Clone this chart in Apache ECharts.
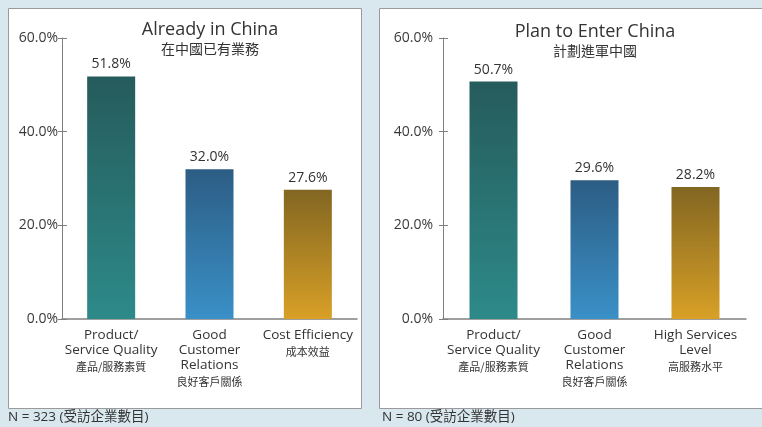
<!DOCTYPE html>
<html>
<head>
<meta charset="utf-8">
<script src="https://cdn.jsdelivr.net/npm/echarts@6/dist/echarts.min.js"></script>
<style>
  html, body { margin: 0; padding: 0; background: #d9e8ef; }
  #chart { width: 762px; height: 427px; }
</style>
</head>
<body>
<div id="chart"></div>
<script>
// Survey results: top reasons, by group of firms
const leftTitle = 'Already in China';
const leftSubtitle = '在中國已有業務';
const leftCatsEn = ['Product/\nService Quality', 'Good\nCustomer\nRelations', 'Cost Efficiency'];
const leftCatsZh = ['產品/服務素質', '良好客戶關係', '成本效益'];
const leftValues = [51.8, 32.0, 27.6];
const leftNote = 'N = 323 (受訪企業數目)';

const rightTitle = 'Plan to Enter China';
const rightSubtitle = '計劃進軍中國';
const rightCatsEn = ['Product/\nService Quality', 'Good\nCustomer\nRelations', 'High Services\nLevel'];
const rightCatsZh = ['產品/服務素質', '良好客戶關係', '高服務水平'];
const rightValues = [50.7, 29.6, 28.2];
const rightNote = 'N = 80 (受訪企業數目)';

const yTicks = [0, 20, 40, 60];

const FONT = '"Open Sans", "Noto Sans", "Noto Sans CJK TC", sans-serif';
const CJK = '"Noto Sans CJK TC", sans-serif';

function grad(top, bottom) {
  return new echarts.graphic.LinearGradient(0, 0, 0, 1, [
    { offset: 0, color: top }, { offset: 1, color: bottom }
  ]);
}
const barColors = [
  grad('#265b5c', '#2d8a89'),
  grad('#2c5d84', '#3a90c7'),
  grad('#826622', '#d8a026')
];

function catLabels(en, zh) {
  return en.map((e, i) => {
    const lines = e.split('\n').map(l => '{en|' + l + '}').join('\n');
    return lines + '\n{zh|' + zh[i] + '}';
  });
}

const chart = echarts.init(document.getElementById('chart'), null, { renderer: 'canvas' });

function yAxisPair(gridIndex, margin) {
  return [
    {
      gridIndex, type: 'value', min: yTicks[0], max: yTicks[yTicks.length - 1], interval: 20,
      axisLine: { show: true, lineStyle: { color: '#808080', width: 1 } },
      axisTick: { show: true, length: 4, lineStyle: { color: '#808080' } },
      splitLine: { show: false },
      axisLabel: {
        margin, color: '#3a3a3a', fontSize: 14, fontFamily: FONT,
        formatter: v => v.toFixed(1) + '%'
      }
    },
    {
      gridIndex, type: 'value', min: yTicks[0], max: yTicks[yTicks.length - 1], interval: 20,
      position: 'left',
      axisLine: { show: false },
      axisTick: { show: true, inside: true, length: 5, lineStyle: { color: '#808080' } },
      splitLine: { show: false },
      axisLabel: { show: false }
    }
  ];
}

function xAxis(gridIndex, en, zh) {
  return {
    gridIndex, type: 'category', data: catLabels(en, zh),
    axisLine: { lineStyle: { color: '#808080', width: 1.5 } },
    axisTick: { show: false },
    axisLabel: {
      interval: 0, margin: 9, color: '#333',
      rich: {
        en: { fontSize: 13.5, lineHeight: 15, fontFamily: FONT, color: '#333' },
        zh: { fontSize: 11, lineHeight: 17, fontFamily: CJK, color: '#333' }
      }
    }
  };
}

function barSeries(xi, yi, values) {
  return {
    type: 'bar', xAxisIndex: xi, yAxisIndex: yi, barWidth: 48,
    data: values.map((v, i) => ({ value: v, itemStyle: { color: barColors[i] } })),
    label: {
      show: true, position: 'top', distance: 5, color: '#333', fontSize: 14, fontFamily: FONT,
      formatter: p => p.value.toFixed(1) + '%'
    }
  };
}

chart.setOption({
  backgroundColor: '#d9e8ef',
  animation: false,
  graphic: [
    { type: 'rect', z: -10, shape: { x: 8.5, y: 8.5, width: 353, height: 400 },
      style: { fill: '#ffffff', stroke: '#9a9a9a', lineWidth: 1 } },
    { type: 'rect', z: -10, shape: { x: 379.5, y: 8.5, width: 390, height: 400 },
      style: { fill: '#ffffff', stroke: '#9a9a9a', lineWidth: 1 } },
    { type: 'text', left: 8, top: 410,
      style: { text: leftNote, fill: '#333', font: '13.5px ' + FONT } },
    { type: 'text', left: 382, top: 410,
      style: { text: rightNote, fill: '#333', font: '13.5px ' + FONT } }
  ],
  title: [
    { text: leftTitle, subtext: leftSubtitle, left: 205, top: 16, textAlign: 'center', itemGap: 3,
      textStyle: { fontSize: 18, fontWeight: 'normal', color: '#333', fontFamily: FONT },
      subtextStyle: { fontSize: 14, color: '#333', fontFamily: CJK } },
    { text: rightTitle, subtext: rightSubtitle, left: 590, top: 18, textAlign: 'center', itemGap: 3,
      textStyle: { fontSize: 18, fontWeight: 'normal', color: '#333', fontFamily: FONT },
      subtextStyle: { fontSize: 14, color: '#333', fontFamily: CJK } }
  ],
  grid: [
    { left: 62, top: 38, width: 295, height: 281 },
    { left: 443, top: 38, width: 303, height: 281 }
  ],
  xAxis: [xAxis(0, leftCatsEn, leftCatsZh), xAxis(1, rightCatsEn, rightCatsZh)],
  yAxis: [...yAxisPair(0, 4), ...yAxisPair(1, 10)],
  series: [barSeries(0, 0, leftValues), barSeries(1, 2, rightValues)]
});
</script>
</body>
</html>
